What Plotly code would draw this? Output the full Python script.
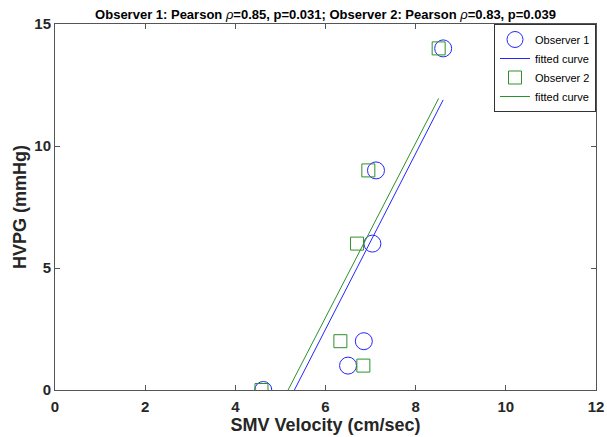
import plotly.graph_objects as go

# Data
obs1_x = [4.62, 6.50, 6.85, 7.04, 7.12, 8.61]
obs1_y = [0, 1, 2, 6, 9, 14]
obs2_x = [4.58, 6.84, 6.33, 6.70, 6.95, 8.51]
obs2_y = [0, 1, 2, 6, 9, 14]

fit1_x = [5.31, 8.61]
fit1_y = [0, 11.89]
fit2_x = [5.17, 8.51]
fit2_y = [0, 11.95]

x_ticks = [0, 2, 4, 6, 8, 10, 12]
y_ticks = [0, 5, 10, 15]

BLUE = "#2424ff"
GREEN = "#2a922a"
FONT = "Liberation Sans"
AX = "#555555"
TXT = "#262626"

fig = go.Figure()
fig.add_trace(go.Scatter(
    x=obs1_x, y=obs1_y, mode="markers", name="Observer 1",
    marker=dict(symbol="circle-open", size=17, color=BLUE, line=dict(width=1, color=BLUE)),
))
fig.add_trace(go.Scatter(
    x=fit1_x, y=fit1_y, mode="lines", name="fitted curve",
    line=dict(color=BLUE, width=1),
))
fig.add_trace(go.Scatter(
    x=obs2_x, y=obs2_y, mode="markers", name="Observer 2",
    marker=dict(symbol="square-open", size=13, color=GREEN, line=dict(width=1, color=GREEN)),
))
fig.add_trace(go.Scatter(
    x=fit2_x, y=fit2_y, mode="lines", name="fitted curve",
    line=dict(color=GREEN, width=1),
))

axis_common = dict(
    showline=True, linecolor=AX, linewidth=1, mirror="ticks",
    ticks="inside", ticklen=5, tickcolor=AX, tickwidth=1,
    showgrid=False, zeroline=False, automargin=False,
    tickfont=dict(family=FONT, size=15, weight="bold", color=TXT),
)

fig.update_xaxes(
    range=[0, 12], tickvals=x_ticks, ticktext=[str(v) for v in x_ticks],
    ticklabelstandoff=3,
    title=dict(text="SMV Velocity (cm/sec)", font=dict(family=FONT, size=18, weight="bold", color=TXT), standoff=4),
    **axis_common,
)
fig.update_yaxes(
    range=[0, 15], tickvals=y_ticks, ticktext=[str(v) for v in y_ticks],
    title=dict(text="HVPG (mmHg)", font=dict(family=FONT, size=18, weight="bold", color=TXT), standoff=3),
    **axis_common,
)

fig.update_layout(
    template="none",
    width=607, height=437,
    margin=dict(l=55, r=11, t=24, b=47),
    paper_bgcolor="white", plot_bgcolor="white",
    title=dict(
        text="Observer 1: Pearson <span style='font-weight:normal'><i>ρ</i></span>=0.85, p=0.031; Observer 2: Pearson <span style='font-weight:normal'><i>ρ</i></span>=0.83, p=0.039",
        font=dict(family=FONT, size=13, weight="bold", color="#000000"),
        x=0.5, xref="paper", xanchor="center",
        y=1 - 14 / 437, yref="container", yanchor="middle",
    ),
    legend=dict(
        x=1, y=1, xanchor="right", yanchor="top",
        bordercolor="#333333", borderwidth=1, bgcolor="white",
        font=dict(family=FONT, size=11, color="#000000"),
        tracegroupgap=0, itemwidth=30,
    ),
    showlegend=True,
)

fig.write_html(
    "out.html",
    config={"displayModeBar": False},
    post_script="document.body.style.margin='0';document.body.style.overflow='hidden';",
)
